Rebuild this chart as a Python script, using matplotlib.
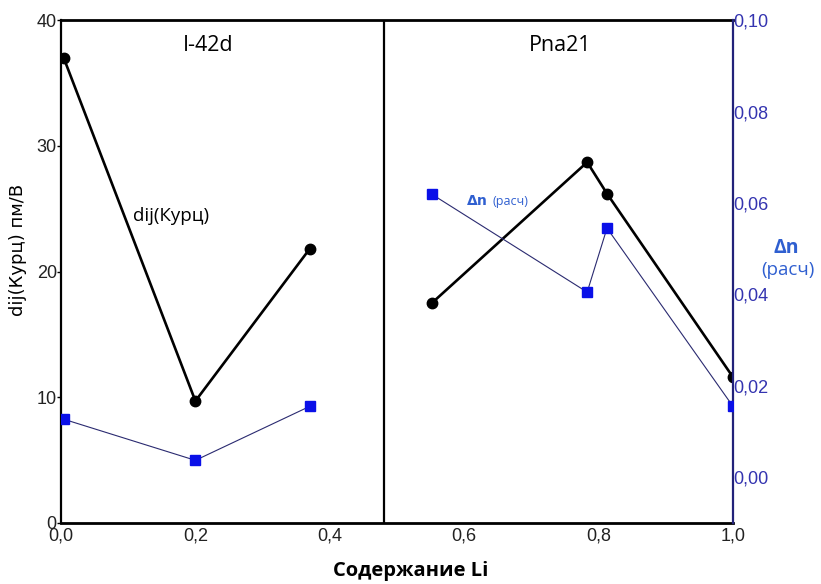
import numpy as np
import matplotlib.pyplot as plt
from matplotlib.ticker import FuncFormatter

# Li content (x) for the two phases
x_i42d = [0.004, 0.2, 0.37]
x_pna21 = [0.552, 0.783, 0.8125, 1.0]

# dij (Kurtz), pm/V - left axis
dij_i42d = [37.0, 9.7, 21.8]
dij_pna21 = [17.5, 28.7, 26.2, 11.6]

# calculated birefringence - right axis
dn_i42d = [0.0127, 0.0037, 0.0155]
dn_pna21 = [0.0619, 0.0405, 0.0545, 0.0155]

left_ticks = [0, 10, 20, 30, 40]
right_ticks = [0.00, 0.02, 0.04, 0.06, 0.08, 0.10]
x_ticks = [0.0, 0.2, 0.4, 0.6, 0.8, 1.0]
x_split = 0.48

tick_font = 'Liberation Sans'
text_font = 'Open Sans'
navy = '#22227a'
tick_blue = '#3434b0'
label_blue = '#2f5fd0'


def comma(fmt):
    return FuncFormatter(lambda v, p: (fmt % v).replace('.', ','))


fig = plt.figure(figsize=(8.21, 5.84), dpi=100)
ax = fig.add_axes([0.0743, 0.1045, 0.8185, 0.861])
ax2 = ax.twinx()

# black: dij
for xs, ys in [(x_i42d, dij_i42d), (x_pna21, dij_pna21)]:
    ax.plot(xs, ys, color='black', lw=1.9, marker='o', ms=7.5, zorder=3)

# blue: delta n
for xs, ys in [(x_i42d, dn_i42d), (x_pna21, dn_pna21)]:
    ax2.plot(xs, ys, color='#2a2a70', lw=0.8, marker='s', ms=7.5,
             mfc='#0a10e8', mec='#0a10e8', zorder=3)

ax.set_xlim(0, 1)
ax.set_ylim(0, 40)
ax2.set_ylim(-0.01, 0.10)
ax.axvline(x_split, color='black', lw=1.6)

ax.set_xticks(x_ticks)
ax.set_yticks(left_ticks)
ax2.set_yticks(right_ticks)
ax.xaxis.set_major_formatter(comma('%.1f'))
ax.yaxis.set_major_formatter(comma('%d'))
ax2.yaxis.set_major_formatter(comma('%.2f'))

ax.tick_params(axis='x', length=0, pad=3, labelsize=13, labelcolor='#222222')
ax.tick_params(axis='y', length=3, width=1, pad=0, labelsize=13, labelcolor='#222222')
ax2.tick_params(axis='y', length=0, pad=0, labelsize=13, labelcolor=tick_blue,
                colors=navy)
for lab in ax.get_xticklabels() + ax.get_yticklabels() + ax2.get_yticklabels():
    lab.set_fontfamily(tick_font)
for lab in ax2.get_yticklabels():
    lab.set_color(tick_blue)

for s in ['top', 'bottom']:
    ax.spines[s].set_linewidth(2)
ax.spines['left'].set_linewidth(1.6)
ax2.spines['right'].set_color(navy)
ax2.spines['right'].set_linewidth(1.6)
for s in ['top', 'bottom', 'left']:
    ax2.spines[s].set_visible(False)
ax.spines['right'].set_visible(False)

ax.set_ylabel('dij(Курц) пм/В', fontsize=13, family='DejaVu Sans')
ax.yaxis.set_label_coords(-0.05, 0.543)
ax.set_xlabel('Содержание Li', fontsize=14.5, family=text_font, fontweight='bold')
ax.xaxis.set_label_coords(0.521, -0.076)

ax.text(0.219, 38.0, 'I-42d', fontsize=15.5, family=text_font, ha='center', va='center')
ax.text(0.743, 38.0, 'Pna21', fontsize=15.5, family=text_font, ha='center', va='center')
ax.text(0.107, 24.4, 'dij(Курц)', fontsize=13.5, family=text_font, va='center')
ax.text(0.603, 25.6, r'$\mathbf{\Delta n}$', fontsize=10, color=label_blue,
        va='center')
ax.text(0.642, 25.6, '(расч)', fontsize=9, family=text_font, color=label_blue,
        va='center')

fig.text(0.958, 0.575, 'Δn', fontsize=14, family=text_font, fontweight='bold',
         color=label_blue, ha='center', va='center')
fig.text(0.960, 0.537, '(расч)', fontsize=13.5, family=text_font,
         color=label_blue, ha='center', va='center')

fig.savefig('out.png', dpi=100)
